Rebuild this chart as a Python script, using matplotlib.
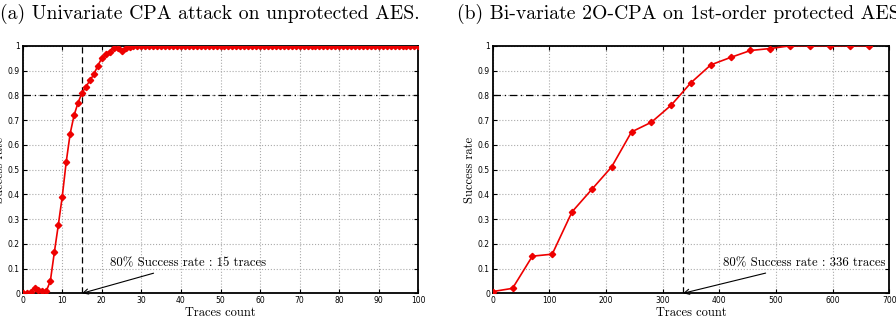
import matplotlib
matplotlib.use('Agg')
import matplotlib.pyplot as plt
import numpy as np

# (a) univariate CPA, unprotected AES
traces_a = list(range(0, 101))
sr_a = [0.0, 0.0, 0.005, 0.02, 0.015, 0.01, 0.01, 0.05, 0.165, 0.275,
        0.39, 0.53, 0.645, 0.72, 0.77, 0.81, 0.835, 0.86, 0.885, 0.92,
        0.95, 0.965, 0.975, 0.99, 0.99, 0.98, 0.99, 0.995] + [1.0] * 73
thr_a = 15

# (b) bi-variate 2O-CPA, 1st-order protected AES
traces_b = [0, 35, 70, 105, 140, 175, 210, 245, 280, 315,
            350, 385, 420, 455, 490, 525, 560, 595, 630, 665]
sr_b = [0.007, 0.02, 0.15, 0.158, 0.329, 0.42, 0.511, 0.652, 0.691, 0.76,
        0.851, 0.923, 0.953, 0.981, 0.989, 1.0, 1.0, 1.0, 1.0, 1.0]
thr_b = 336

titles = ['(a) Univariate CPA attack on unprotected AES.',
          '(b) Bi-variate 2O-CPA on 1st-order protected AES.']
notes = ['80% Success rate : 15 traces', '80% Success rate : 336 traces']

serif = 'cmr10'

fig = plt.figure(figsize=(8.96, 3.18), dpi=100)
ax1 = fig.add_axes([0.0253, 0.0777, 0.4416, 0.7783])
ax2 = fig.add_axes([0.5499, 0.0777, 0.4426, 0.7783])


def panel(ax, x, y, thr, xmax, step, note, note_xy):
    ax.plot(x, y, color='#ee0000', lw=1.2, marker='D', ms=3.2,
            mec='#ee0000', zorder=4)
    ax.axvline(thr, color='black', ls='--', lw=0.9, dashes=(5, 3))
    ax.axhline(0.8, color='black', ls='-.', lw=0.9, dashes=(6, 3, 1, 3))
    ax.set_xlim(0, xmax)
    ax.set_ylim(0, 1)
    ax.set_xticks(np.arange(0, xmax + 1, step))
    ax.set_yticks(np.arange(0, 1.01, 0.1))
    ax.set_yticklabels(['0', '0.1', '0.2', '0.3', '0.4', '0.5', '0.6',
                        '0.7', '0.8', '0.9', '1'])
    ax.grid(True, ls=':', color='#aaaaaa', lw=0.8)
    ax.tick_params(direction='in', length=3, labelsize=5.5, pad=2,
                   top=True, right=True)
    for s in ax.spines.values():
        s.set_linewidth(1.3)
    ax.set_xlabel('Traces count', family=serif, fontsize=9, labelpad=1)
    ax.set_ylabel('Success rate', family=serif, fontsize=9)
    ax.annotate(note, xy=(thr, 0), xytext=note_xy, family=serif,
                fontsize=9.2, va='center', ha='left',
                arrowprops=dict(arrowstyle='->', color='black', lw=0.8,
                                shrinkA=2, shrinkB=0))


panel(ax1, traces_a, sr_a, thr_a, 100, 10, notes[0], (22, 0.12))
ax1.yaxis.set_label_coords(-0.041, 0.5)
panel(ax2, traces_b, sr_b, thr_b, 700, 100, notes[1], (407, 0.12))
ax2.yaxis.set_label_coords(-0.041, 0.5)

fig.text(0.0, 0.955, titles[0], family=serif, fontsize=14.2, ha='left',
         va='center')
fig.text(0.51, 0.955, titles[1], family=serif, fontsize=14.2, ha='left',
         va='center')

fig.savefig('out.png', dpi=100)
